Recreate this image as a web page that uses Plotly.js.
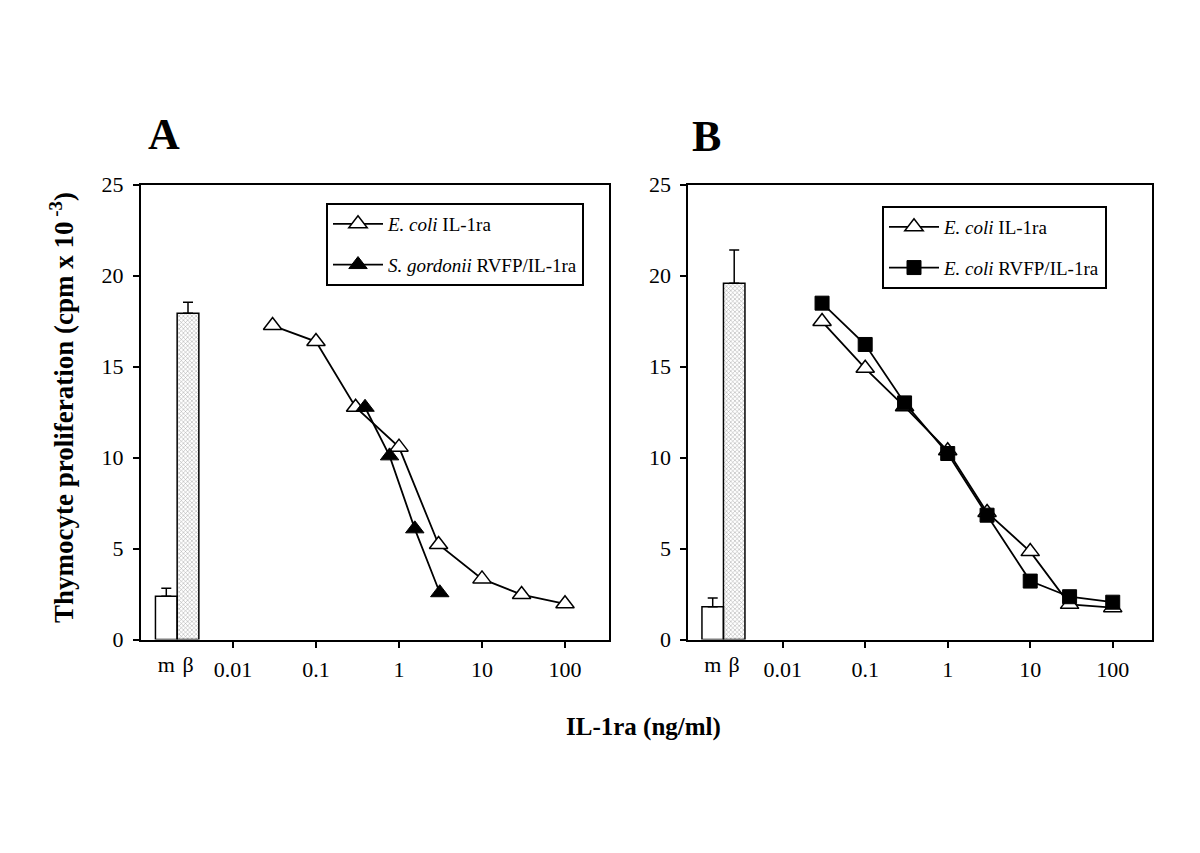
<!DOCTYPE html>
<html>
<head>
<meta charset="utf-8">
<script src="https://cdn.plot.ly/plotly-3.0.1.min.js"></script>
<style>html,body{margin:0;padding:0;background:#fff;}#chart{width:1200px;height:853px;}</style>
</head>
<body>
<div id="chart"></div>
<script>
// ---- data ----
const barLabels = ["m", "β"];
const barA = [2.38, 17.93];
const barAErr = [0.44, 0.6];
const barB = [1.8, 19.57];
const barBErr = [0.48, 1.83];

const doseEcoli = [0.03, 0.1, 0.3, 1, 3, 10, 30, 100];
const ecoliA = [17.25, 16.37, 12.76, 10.57, 5.22, 3.33, 2.47, 1.96];
const doseSgord = [0.39, 0.77, 1.55, 3.1];
const sgordA = [12.76, 10.09, 6.08, 2.57];

const ecoliB = [17.47, 14.9, 12.79, 10.37, 6.98, 4.83, 1.93, 1.75];
const doseRvfp = [0.03, 0.1, 0.3, 1, 3, 10, 30, 100];
const rvfpB = [18.48, 16.21, 13.0, 10.22, 6.83, 3.21, 2.35, 2.05];

const xTickVals = [0.01, 0.1, 1, 10, 100];
const xTickText = ["0.01", "0.1", "1", "10", "100"];

// ---- styling ----
const serif = "Liberation Serif, Times New Roman, serif";
const W = 1200, H = 853;
const yDom = [1 - 639.5 / H, 1 - 184.5 / H];
const domA = [141 / W, 609 / W];
const domB = [688.3 / W, 1152 / W];

function barTrace(vals, errs, xa, ya) {
  return {
    type: "bar", x: [0, 1], y: vals, xaxis: xa, yaxis: ya, width: 1,
    showlegend: false, hoverinfo: "skip",
    marker: {
      color: ["#ffffff", "#a0a0a0"],
      line: {color: "#000", width: 1.5},
      pattern: {shape: ["", "x"], fgcolor: "#555", bgcolor: "#bdbdbd", size: 3, solidity: 0.3}
    },
    error_y: {type: "data", symmetric: false, array: errs, arrayminus: [0, 0], color: "#000", thickness: 1.5, width: 5}
  };
}
const openTri = {symbol: "triangle-up", size: 16, color: "#fff", line: {color: "#000", width: 1.5}};
const fillTri = {symbol: "triangle-up", size: 16, color: "#000", line: {color: "#000", width: 1}};
const fillSq = {symbol: "square", size: 14, color: "#000", line: {color: "#000", width: 1}};
const lineStyle = {color: "#000", width: 1.8};

const traces = [
  barTrace(barA, barAErr, "x3", "y"),
  {type: "scatter", mode: "lines+markers", x: doseEcoli, y: ecoliA, xaxis: "x", yaxis: "y",
   name: "<i>E. coli</i> IL-1ra", legend: "legend", legendgroup: "a1", line: lineStyle, marker: openTri},
  {type: "scatter", mode: "lines+markers", x: doseSgord, y: sgordA, xaxis: "x", yaxis: "y",
   name: "<i>S. gordonii</i> RVFP/IL-1ra", legend: "legend", legendgroup: "a2", line: lineStyle, marker: fillTri},
  barTrace(barB, barBErr, "x4", "y2"),
  {type: "scatter", mode: "lines+markers", x: doseEcoli, y: ecoliB, xaxis: "x2", yaxis: "y2",
   name: "<i>E. coli</i> IL-1ra", legend: "legend2", legendgroup: "b1", line: lineStyle, marker: openTri},
  {type: "scatter", mode: "lines+markers", x: doseRvfp, y: rvfpB, xaxis: "x2", yaxis: "y2",
   name: "<i>E. coli</i> RVFP/IL-1ra", legend: "legend2", legendgroup: "b2", line: lineStyle, marker: fillSq}
];

const tickFont = {family: serif, size: 22, color: "#000"};
function logAxis(dom, range, anchor) {
  return {type: "log", domain: dom, range: range, anchor: anchor,
    tickvals: xTickVals, ticktext: xTickText, ticks: "outside", ticklen: 6, tickwidth: 2, tickcolor: "#000",
    showline: true, linewidth: 2, linecolor: "#000", mirror: true, showgrid: false, zeroline: false,
    tickfont: tickFont, ticklabelstandoff: 3};
}
function barAxis(range, over, anchor) {
  return {type: "linear", range: range, overlaying: over, anchor: anchor,
    tickvals: [0, 1], ticktext: barLabels, ticks: "", showline: false, showgrid: false, zeroline: false,
    tickfont: tickFont, ticklabelstandoff: 9};
}
function yAxis(anchor) {
  return {domain: yDom, range: [0, 25], dtick: 5, anchor: anchor, ticks: "outside", ticklen: 6, tickwidth: 2,
    tickcolor: "#000", showline: true, linewidth: 2, linecolor: "#000", mirror: true, showgrid: false,
    zeroline: false, tickfont: tickFont, ticklabelstandoff: 5};
}
const legendBase = {bgcolor: "rgba(255,255,255,1)", bordercolor: "#000", borderwidth: 2,
  font: {family: serif, size: 19, color: "#000"}, xanchor: "left", yanchor: "top",
  traceorder: "grouped", tracegroupgap: 13, itemwidth: 50};

const layout = {
  width: W, height: H, margin: {l: 0, r: 0, t: 0, b: 0},
  paper_bgcolor: "#fff", plot_bgcolor: "rgba(0,0,0,0)",
  barmode: "group", showlegend: true,
  xaxis: logAxis(domA, [-3.108, 2.530], "y"),
  xaxis2: logAxis(domB, [-3.144, 2.476], "y2"),
  xaxis3: barAxis([-1.166, 20.40], "x", "y"),
  xaxis4: barAxis([-1.135, 20.43], "x2", "y2"),
  yaxis: yAxis("x"),
  yaxis2: yAxis("x2"),
  legend: Object.assign({}, legendBase, {x: 326 / W, y: 1 - 203 / H}),
  legend2: Object.assign({}, legendBase, {x: 882 / W, y: 1 - 206 / H}),
  annotations: [
    {text: "<b>A</b>", x: 164 / W, y: 1 - 134 / H, xref: "paper", yref: "paper", showarrow: false,
     xanchor: "center", yanchor: "middle", font: {family: serif, size: 44, color: "#000"}},
    {text: "<b>B</b>", x: 707 / W, y: 1 - 136 / H, xref: "paper", yref: "paper", showarrow: false,
     xanchor: "center", yanchor: "middle", font: {family: serif, size: 44, color: "#000"}},
    {text: "<b>IL-1ra (ng/ml)</b>", x: 643 / W, y: 1 - 727 / H, xref: "paper", yref: "paper", showarrow: false,
     xanchor: "center", yanchor: "middle", font: {family: serif, size: 25, color: "#000"}},
    {text: "<b>Thymocyte proliferation (cpm x 10<sup> -3</sup>)</b>", x: 62 / W, y: 1 - 408 / H,
     xref: "paper", yref: "paper", showarrow: false, textangle: -90, xanchor: "center", yanchor: "middle",
     font: {family: serif, size: 27, color: "#000"}}
  ]
};

Plotly.newPlot("chart", traces, layout, {staticPlot: true, displayModeBar: false});
</script>
</body>
</html>
